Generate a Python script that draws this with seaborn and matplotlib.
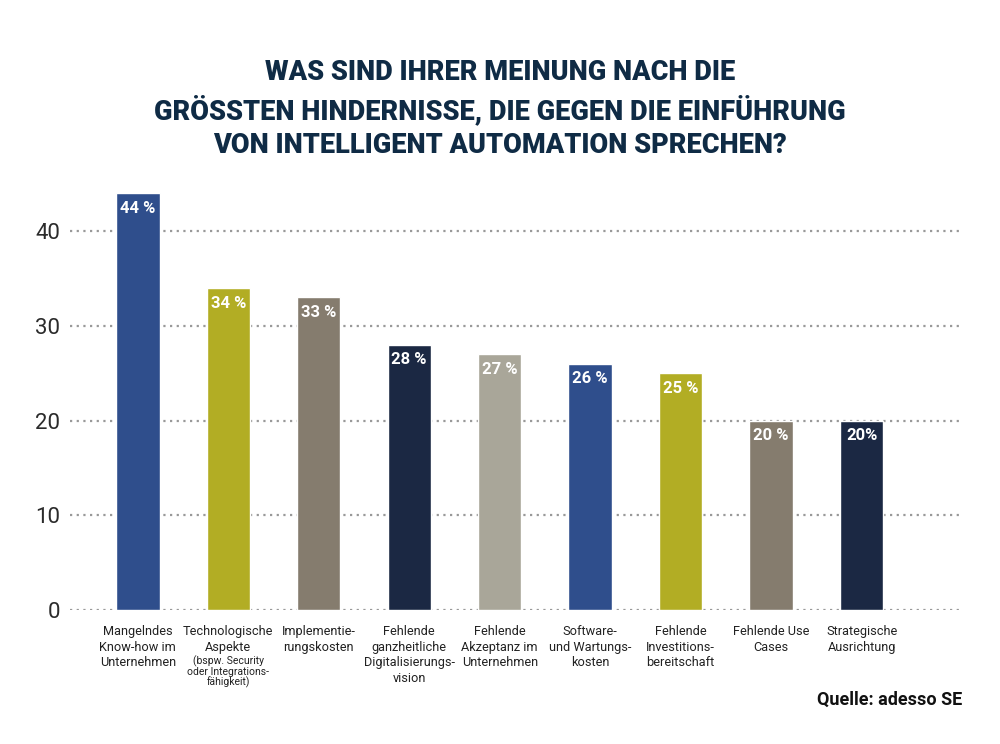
import matplotlib
matplotlib.use("Agg")
import matplotlib.pyplot as plt
import matplotlib.transforms as mtransforms
import seaborn as sns
import pandas as pd

# Data
categories = [
    "Mangelndes\nKnow-how im\nUnternehmen",
    "Technologische\nAspekte",
    "Implementie-\nrungskosten",
    "Fehlende\nganzheitliche\nDigitalisierungs-\nvision",
    "Fehlende\nAkzeptanz im\nUnternehmen",
    "Software-\nund Wartungs-\nkosten",
    "Fehlende\nInvestitions-\nbereitschaft",
    "Fehlende Use\nCases",
    "Strategische\nAusrichtung",
]
values = [44, 34, 33, 28, 27, 26, 25, 20, 20]
value_labels = ["44 %", "34 %", "33 %", "28 %", "27 %", "26 %", "25 %", "20 %", "20%"]
colors = ["#2f4e8c", "#b2ad24", "#857c6e", "#1b2843", "#a9a699",
          "#2f4e8c", "#b2ad24", "#857c6e", "#1b2843"]
sub_note = "(bspw. Security\noder Integrations-\nfähigkeit)"

sns.set_style("white")
plt.rcParams['font.family'] = ['Roboto', 'DejaVu Sans']

df = pd.DataFrame({"cat": categories, "val": values})

fig = plt.figure(figsize=(10, 7.44), dpi=100)
ax = fig.add_axes([0.07, 0.18, 0.892, 0.573])

sns.barplot(data=df, x="cat", y="val", hue="cat", palette=colors,
            width=0.48, legend=False, ax=ax, saturation=1, zorder=3)

ax.set_ylim(0, 45)
ax.set_xlim(-0.75, 9.11)
ax.set_yticks([0, 10, 20, 30, 40])
ax.yaxis.grid(True, linestyle=(0, (1, 2)), color="#999999", linewidth=1.6, zorder=0)
ax.xaxis.grid(False)
ax.set_axisbelow(True)
sns.despine(ax=ax, left=True, bottom=True)
ax.tick_params(axis="y", length=0, pad=7, labelsize=16, labelcolor="#2b2b2b")
ax.tick_params(axis="x", length=0, pad=11, labelsize=9.2, labelcolor="#222222")
for t in ax.get_xticklabels():
    t.set_linespacing(1.25)
ax.set_xlabel("")
ax.set_ylabel("")

# value labels inside bars
for i, (v, lab) in enumerate(zip(values, value_labels)):
    ax.text(i, v - 0.8, lab, ha="center", va="top", color="white",
            fontsize=12, fontweight="bold", zorder=4)

# small note under second label
trans = mtransforms.blended_transform_factory(ax.transData, fig.transFigure)
ax.text(1, 1 - 655 / 744, sub_note, transform=trans, ha="center", va="top",
        fontsize=7.5, color="#222222", linespacing=1.0)

fig.text(0.5, 1 - 109 / 744, "WAS SIND IHRER MEINUNG NACH DIE\nGRÖSSTEN HINDERNISSE, DIE GEGEN DIE EINFÜHRUNG\nVON INTELLIGENT AUTOMATION SPRECHEN?",
         ha="center", va="center", fontsize=19.5, fontweight="heavy",
         color="#0f2b45", linespacing=1.35)

fig.text(0.962, 1 - 700 / 744, "Quelle: adesso SE", ha="right", va="center",
         fontsize=13, fontweight="bold", color="#111111")

fig.savefig("out.png", dpi=100)
